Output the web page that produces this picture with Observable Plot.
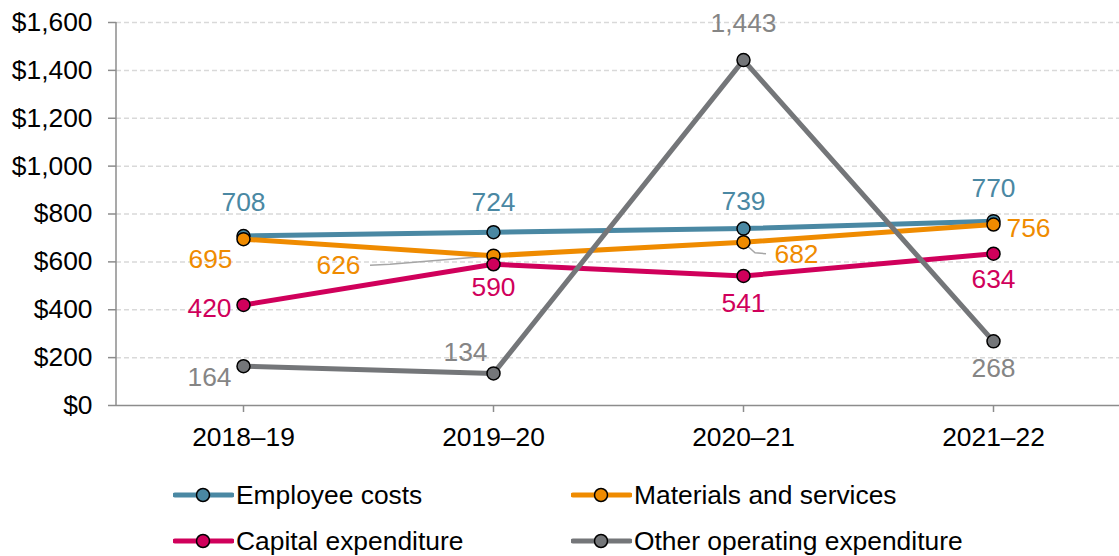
<!DOCTYPE html>
<html><head><meta charset="utf-8">
<script src="https://cdn.jsdelivr.net/npm/d3@7"></script>
<script src="https://cdn.jsdelivr.net/npm/@observablehq/plot@0.6"></script>
<style>
body{margin:0;background:#fff;font-family:"Liberation Sans",Arial,sans-serif;}
#legend{position:relative;width:1119px;height:91px;}
.item{position:absolute;display:flex;align-items:center;height:30px;font-size:26.4px;color:#000;white-space:nowrap;}
.item svg{margin-right:2px;}
</style></head>
<body><div id="chart"></div><div id="legend"></div>
<script>
const years = ["2018–19","2019–20","2020–21","2021–22"];
const seriesNames = ["Employee costs","Materials and services","Capital expenditure","Other operating expenditure"];
const employeeCosts = [708,724,739,770];
const materialsServices = [695,626,682,756];
const capitalExpenditure = [420,590,541,634];
const otherOperating = [164,134,1443,268];
const yTicks = [0,200,400,600,800,1000,1200,1400,1600];

const seriesValues = [employeeCosts, materialsServices, capitalExpenditure, otherOperating];
const lineColors = ["#4a88a3","#ef8b00","#d0005b","#747679"];
const labelColors = ["#4a88a3","#ef8b00","#d0005b","#858585"];
const FS = 26.4;
// label offsets in pixels [dx, dy] per series per year
const labelOffsets = [
  [[0,-33],[0,-30],[0,-27],[0,-33]],
  [[-33,20],[-155,10],[53,12],[35,4]],
  [[-34,4],[0,23],[0,28],[0,26]],
  [[-34,11],[-28,-21],[0,-37],[0,27]]
];
const fmt = d3.format(",");

const rows = [];
seriesNames.forEach((s, i) => years.forEach((y, j) => rows.push({series: s, si: i, yi: j, year: y, value: seriesValues[i][j]})));

const marks = [
  Plot.gridY(yTicks.filter(d => d > 0), {stroke: "#d9d9d9", strokeOpacity: 1, strokeWidth: 1.5, strokeDasharray: "5,3"}),
  Plot.ruleY([0], {stroke: "#8c8c8c", strokeWidth: 1.5}),
  (index, scales, values, dim, ctx) => {
    const doc = ctx && ctx.document ? ctx.document : document;
    const l = doc.createElementNS("http://www.w3.org/2000/svg", "line");
    const x0 = dim.marginLeft;
    l.setAttribute("x1", x0); l.setAttribute("x2", x0);
    l.setAttribute("y1", scales.y(1600)); l.setAttribute("y2", scales.y(0));
    l.setAttribute("stroke", "#8c8c8c"); l.setAttribute("stroke-width", 1.5);
    return l;
  },
  Plot.axisY({ticks: yTicks, tickSize: 8, tickPadding: 16, stroke: "#8c8c8c", strokeWidth: 1.5, fill: "#000", fontSize: FS, tickFormat: d => "$" + fmt(d), label: null}),
  Plot.axisX({tickSize: 7, tickPadding: 15, stroke: "#8c8c8c", strokeWidth: 1.5, fill: "#000", fontSize: FS, label: null})
];

// leader lines for two materials labels
marks.push((index, scales, values, dim, ctx) => {
  const doc = ctx && ctx.document ? ctx.document : document;
  const g = doc.createElementNS("http://www.w3.org/2000/svg", "g");
  const mk = (d) => {
    const p = doc.createElementNS("http://www.w3.org/2000/svg", "path");
    p.setAttribute("d", d); p.setAttribute("fill", "none");
    p.setAttribute("stroke", "#a6a6a6"); p.setAttribute("stroke-width", 1.5);
    g.appendChild(p);
  };
  const xa = scales.x(years[1]), ya = scales.y(materialsServices[1]);
  mk(`M${xa-123},${ya+10} L${xa-103},${ya+9} L${xa-6},${ya+1}`);
  const xb = scales.x(years[2]), yb = scales.y(materialsServices[2]);
  mk(`M${xb+2},${yb+2} L${xb+12},${yb+11} L${xb+23},${yb+12}`);
  return g;
});

seriesNames.forEach((s, i) => {
  const data = rows.filter(r => r.si === i);
  marks.push(Plot.line(data, {x: "year", y: "value", stroke: lineColors[i], strokeWidth: 5}));
  marks.push(Plot.dot(data, {x: "year", y: "value", r: 6.5, fill: lineColors[i], stroke: "#000", strokeWidth: 1.5}));
});
rows.forEach(r => {
  const [dx, dy] = labelOffsets[r.si][r.yi];
  marks.push(Plot.text([r], {x: "year", y: "value", text: d => fmt(d.value), dx, dy, fill: labelColors[r.si], fontSize: FS}));
});

const chart = Plot.plot({
  width: 1119, height: 465,
  marginLeft: 116, marginRight: 0, marginTop: 22, marginBottom: 60,
  style: {fontFamily: "'Liberation Sans', Arial, sans-serif", fontSize: FS + "px", background: "#fff", overflow: "visible"},
  x: {type: "point", domain: years, padding: 0.5},
  y: {domain: [0, 1600]},
  marks
});
document.getElementById("chart").appendChild(chart);

const legend = document.getElementById("legend");
const pos = [[173,15],[571,15],[173,61],[571,61]];
seriesNames.forEach((s, i) => {
  const d = document.createElement("div");
  d.className = "item";
  d.style.left = pos[i][0] + "px"; d.style.top = pos[i][1] + "px";
  d.innerHTML = `<svg width="61" height="20"><line x1="2" x2="59" y1="10" y2="10" stroke="${lineColors[i]}" stroke-width="5" stroke-linecap="round"/><circle cx="30" cy="10" r="6.5" fill="${lineColors[i]}" stroke="#000" stroke-width="1.5"/></svg><span>${s}</span>`;
  legend.appendChild(d);
});
</script></body></html>
